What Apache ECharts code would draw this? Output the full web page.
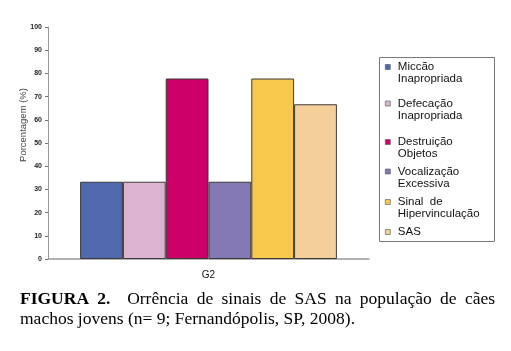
<!DOCTYPE html>
<html><head><meta charset="utf-8">
<script src="https://cdn.jsdelivr.net/npm/echarts@6/dist/echarts.min.js"></script>
<style>html,body{margin:0;padding:0;background:#fff}#c{width:511px;height:351px}</style>
</head><body><div id="c"></div>
<script>
// ---- data ----
const categories = ['G2'];
const seriesNames = ['Miccão\nInapropriada', 'Defecação\nInapropriada', 'Destruição\nObjetos', 'Vocalização\nExcessiva', 'Sinal  de\nHipervinculação', 'SAS'];
const seriesValues = [[33.3], [33.3], [77.8], [33.3], [77.8], [66.7]];
const yAxisName = 'Porcentagem (%)';
const yMin = 0, yMax = 100, yInterval = 10;
const captionBold = ['FIGURA', '2.'];
const captionLine1 = ['Orrência', 'de', 'sinais', 'de', 'SAS', 'na', 'população', 'de', 'cães'];
const captionLine2 = 'machos jovens (n= 9; Fernandópolis, SP, 2008).';

// ---- styles ----
const colors = ['#5069ad', '#dcb4d2', '#cc0066', '#8479b2', '#f7c84b', '#f5cf99'];
const legendCenters = [67, 103.5, 142, 171.5, 202, 232];

const chart = echarts.init(document.getElementById('c'), null, {renderer: 'canvas'});

// justify caption line 1
const capFont = 'Liberation Serif, Times New Roman, serif';
const capSize = 17.5;
const ctx = document.createElement('canvas').getContext('2d');
ctx.font = 'bold ' + capSize + 'px ' + capFont;
let wordsW = 0;
captionBold.forEach(w => wordsW += ctx.measureText(w).width);
ctx.font = capSize + 'px ' + capFont;
captionLine1.forEach(w => wordsW += ctx.measureText(w).width);
const targetW = 475;
const gaps = captionBold.length - 1 + captionLine1.length - 1 + 2;
const gapW = Math.max(3, (targetW - wordsW) / gaps);
const line1 = captionBold.map(w => '{b|' + w + '}').join('{g| }') + '{g| }{g| }' +
  captionLine1.map(w => '{r|' + w + '}').join('{g| }');
const captionText = line1 + '\n{r|' + captionLine2 + '}';

const legends = seriesNames.map((n, i) => {
  const two = n.indexOf('\n') >= 0;
  return {
    left: 385,
    top: legendCenters[i] - (two ? 18 : 6),
    orient: 'vertical',
    padding: 0,
    itemWidth: 10,
    itemHeight: 5,
    icon: 'path://M0,0h10v10h-10z',
    selectedMode: false,
    itemStyle: {borderColor: '#555', borderWidth: 0.6},
    formatter: name => (name.indexOf('\n') >= 0 ? '\n' + name : name),
    textStyle: {fontFamily: 'Liberation Sans, Arial, sans-serif', fontSize: 11.5, color: '#111', lineHeight: 12},
    data: [n]
  };
});

const option = {
  animation: false,
  backgroundColor: '#fff',
  title: {
    left: 20, top: 289, padding: 0,
    text: captionText,
    textStyle: {
      fontFamily: capFont, fontSize: capSize, color: '#000', lineHeight: 20, fontWeight: 'normal',
      rich: {
        b: {fontFamily: capFont, fontSize: capSize, fontWeight: 'bold', color: '#000', lineHeight: 20},
        r: {fontFamily: capFont, fontSize: capSize, color: '#000', lineHeight: 20},
        g: {width: gapW, fontSize: capSize, lineHeight: 20}
      }
    }
  },
  legend: legends,
  grid: {left: 48, right: 142, top: 27, bottom: 92, containLabel: false},
  xAxis: {
    type: 'category', data: categories,
    axisLine: {lineStyle: {color: '#999', width: 1.5}},
    axisTick: {show: false},
    axisLabel: {fontFamily: 'Liberation Sans, Arial, sans-serif', fontSize: 10, color: '#111', margin: 11}
  },
  yAxis: {
    type: 'value', min: yMin, max: yMax, interval: yInterval,
    name: yAxisName, nameLocation: 'middle', nameGap: 20, nameMoveOverlap: false,
    nameTextStyle: {fontFamily: 'Liberation Sans, Arial, sans-serif', fontSize: 9.5, color: '#444', padding: [0, 0, 0, 36]},
    axisLine: {show: true, lineStyle: {color: '#999', width: 1}},
    axisTick: {show: true, length: 3, lineStyle: {color: '#777'}},
    splitLine: {show: false},
    axisLabel: {fontFamily: 'Liberation Sans, Arial, sans-serif', fontSize: 7, fontWeight: 'bold', color: '#222', margin: 6}
  },
  series: seriesNames.map((n, i) => ({
    name: n, type: 'bar', data: seriesValues[i],
    barGap: 0, barCategoryGap: '20%',
    itemStyle: {color: colors[i], borderColor: '#3a3a3a', borderWidth: 1}
  })),
  graphic: [{
    type: 'rect', silent: true,
    shape: {x: 379.5, y: 57.5, width: 115, height: 184},
    style: {fill: 'none', stroke: '#777', lineWidth: 1}
  }]
};
chart.setOption(option);
</script>
</body></html>
